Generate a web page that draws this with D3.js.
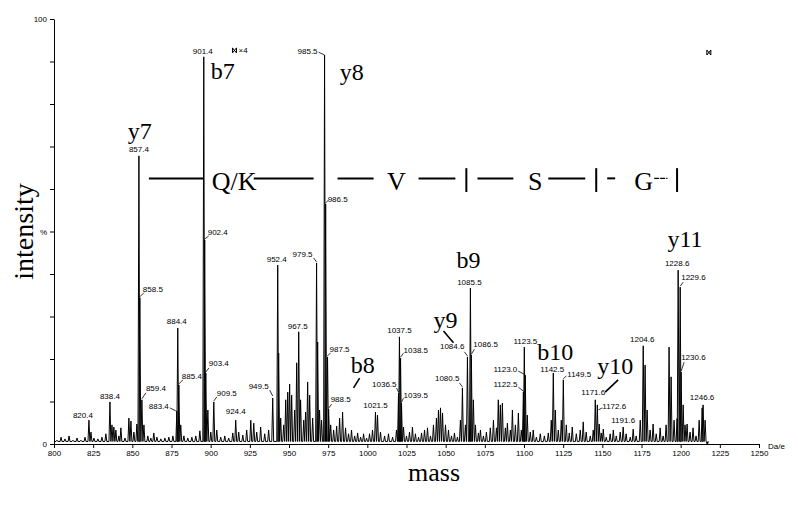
<!DOCTYPE html>
<html>
<head>
<meta charset="utf-8">
<script src="https://cdn.jsdelivr.net/npm/d3@7/dist/d3.min.js"></script>
<style>
body { margin: 0; background: #fff; }
svg { display: block; }
.small { font-family: "Liberation Sans", Arial, sans-serif; font-size: 8px; fill: #000; }
.big { font-family: "Liberation Serif", "Times New Roman", serif; fill: #000; }
</style>
</head>
<body>
<script>
// spectrum peaks: mass (axis units) and relative intensity (%)
const peakMass = [
  801.9, 804.5, 807.0, 809.6, 812.1, 814.7, 817.2, 819.8, 822.3, 823.6,
  825.5, 828.0, 830.6, 833.1, 835.7, 837.0, 838.2, 839.5, 841.4, 842.7,
  845.3, 847.8, 849.1, 851.0, 852.9, 854.2, 854.8, 856.1, 857.4, 859.9,
  861.8, 863.7, 865.7, 868.2, 870.8, 873.3, 875.9, 878.4, 879.0, 879.7,
  880.9, 882.9, 885.4, 888.0, 890.5, 893.1, 895.6, 896.2, 896.9, 898.2,
  900.1, 902.0, 903.9, 906.4, 909.0, 911.5, 914.1, 916.0, 917.9, 920.5,
  923.0, 925.6, 927.5, 929.4, 931.9, 934.5, 937.0, 939.6, 942.8, 943.4,
  944.7, 946.6, 947.9, 949.2, 950.4, 951.7, 953.6, 954.9, 956.2, 957.4,
  959.4, 960.6, 961.9, 963.2, 965.1, 967.6, 968.3, 969.5, 970.8, 972.7,
  973.4, 974.6, 975.3, 976.6, 978.5, 980.4, 982.3, 984.2, 986.1, 988.0,
  989.9, 991.9, 993.8, 995.7, 997.6, 999.5, 1001.4, 1003.3, 1005.2, 1006.5,
  1008.4, 1011.0, 1013.5, 1016.1, 1018.6, 1019.9, 1020.5, 1021.2, 1021.8, 1023.1,
  1025.0, 1026.9, 1028.8, 1030.7, 1032.7, 1034.6, 1036.5, 1038.4, 1040.3, 1042.2,
  1044.1, 1045.4, 1046.7, 1048.0, 1049.9, 1051.8, 1053.7, 1055.6, 1057.5, 1059.4,
  1060.7, 1062.6, 1063.9, 1065.8, 1066.4, 1067.7, 1069.0, 1070.9, 1072.2, 1074.1,
  1076.0, 1078.5, 1080.5, 1082.4, 1083.6, 1084.9, 1086.2, 1088.1, 1089.4, 1091.3,
  1092.6, 1094.5, 1096.4, 1098.3, 1099.6, 1100.2, 1100.8, 1102.1, 1104.0, 1105.9,
  1107.9, 1110.4, 1113.0, 1115.5, 1117.4, 1118.7, 1120.0, 1121.9, 1123.8, 1125.1,
  1127.0, 1128.9, 1130.8, 1133.4, 1135.9, 1137.8, 1139.7, 1142.3, 1144.2, 1145.5,
  1146.8, 1148.0, 1149.3, 1150.6, 1152.5, 1155.0, 1157.0, 1158.9, 1161.4, 1163.3,
  1165.2, 1167.8, 1169.7, 1171.6, 1174.2, 1176.1, 1177.3, 1178.6, 1180.5, 1182.4,
  1184.4, 1186.9, 1188.8, 1190.7, 1192.6, 1193.9, 1195.8, 1197.7, 1198.4, 1199.7,
  1200.3, 1201.6, 1202.8, 1204.1, 1206.0, 1207.9, 1209.8, 1211.8, 1213.7, 1214.3,
  1215.6, 1216.9
];
const peakInt = [
  0.9, 1.6, 1.2, 1.9, 0.9, 1.4, 0.9, 1.6, 5.6, 2.8,
  1.4, 1.2, 1.6, 2.4, 9.9, 4.5, 4.0, 3.3, 1.9, 3.8,
  1.4, 6.1, 5.4, 2.8, 4.7, 67.8, 34.4, 10.4, 4.5, 1.9,
  1.4, 2.6, 1.6, 1.2, 1.4, 1.6, 1.9, 7.8, 27.3, 13.9,
  4.5, 1.9, 1.4, 1.6, 1.9, 3.1, 91.1, 48.0, 16.7, 8.0,
  2.8, 9.9, 3.3, 1.6, 1.9, 1.4, 2.6, 5.6, 2.8, 2.1,
  3.3, 5.6, 4.9, 2.8, 4.0, 2.4, 3.3, 10.8, 42.1, 21.4,
  6.1, 4.5, 10.4, 12.2, 14.1, 11.5, 8.0, 19.1, 26.4, 10.4,
  5.6, 7.5, 14.6, 11.5, 6.1, 42.6, 24.0, 8.0, 5.6, 91.5,
  56.5, 20.5, 8.2, 4.5, 3.3, 4.2, 6.1, 7.5, 3.8, 2.4,
  3.3, 1.9, 2.6, 1.6, 2.4, 1.4, 2.4, 3.3, 7.5, 6.8,
  2.8, 1.9, 2.4, 1.6, 3.3, 12.0, 25.2, 20.2, 9.6, 4.0,
  1.9, 2.8, 4.0, 2.4, 1.6, 2.6, 3.3, 3.8, 1.9, 4.5,
  6.1, 8.0, 8.5, 7.3, 4.5, 3.3, 1.9, 2.6, 1.6, 5.6,
  13.2, 4.5, 20.5, 36.7, 20.9, 10.4, 4.5, 2.6, 3.3, 1.9,
  2.8, 3.8, 5.6, 3.8, 10.4, 9.2, 9.6, 3.8, 4.9, 3.3,
  8.0, 4.5, 7.3, 3.3, 12.2, 22.8, 16.2, 6.8, 2.8, 3.3,
  1.6, 2.4, 1.9, 2.6, 5.6, 16.7, 8.0, 3.3, 5.6, 15.1,
  4.5, 2.6, 4.0, 2.4, 3.3, 5.2, 2.8, 1.9, 3.3, 10.4,
  9.2, 4.7, 2.6, 3.5, 1.6, 2.4, 3.3, 1.9, 2.8, 4.0,
  2.4, 1.6, 3.5, 1.9, 5.6, 23.1, 18.6, 8.0, 3.3, 4.7,
  2.4, 3.8, 1.9, 4.5, 22.8, 15.8, 5.6, 6.0, 40.9, 36.9,
  16.9, 9.2, 4.5, 4.7, 2.8, 3.8, 1.9, 5.6, 8.5, 9.2,
  5.6, 0
];

// peak labels (printed m/z) and the axis mass of the peak they belong to
const labelText = [
  "820.4", "838.4", "857.4", "858.5", "859.4", "883.4", "884.4", "885.4", "901.4", "902.4",
  "903.4", "909.5", "924.4", "949.5", "952.4", "967.5", "979.5", "985.5", "986.5", "987.5",
  "988.5", "1021.5", "1036.5", "1037.5", "1038.5", "1039.5", "1080.5", "1084.6", "1085.5", "1086.5",
  "1122.5", "1123.5", "1123.0", "1142.5", "1149.5", "1171.6", "1172.6", "1191.6", "1204.6", "1228.6",
  "1229.6", "1230.6", "1246.6"
];
const labelPeak = [
  822.3, 835.7, 854.2, 854.8, 856.1, 878.4, 879.0, 879.7, 895.6, 896.2,
  896.9, 902.0, 916.0, 939.6, 942.8, 956.2, 967.6, 972.7, 973.4, 974.6,
  975.3, 1005.2, 1019.9, 1020.5, 1021.2, 1021.8, 1060.7, 1063.9, 1065.8, 1066.4,
  1099.6, 1100.2, 1100.8, 1118.7, 1125.1, 1145.5, 1146.8, 1163.3, 1176.1, 1198.4,
  1199.7, 1200.3, 1214.3
];
// label placement relative to the peak top: dx, dy, anchor, leader [x1,y1,x2,y2]
const labelLayout = [
  [-6, -2, "middle", null], [0, -3, "middle", null], [0, -4, "middle", null],
  [3, -6, "start", [0, -1, 4, -5]], [4, -9, "start", [0, -1, 4, -7]],
  [-8, -2, "end", [-1, 0, -7, -3]], [-1, -4, "middle", null], [3, -6, "start", [0, -1, 4, -5]],
  [-1, -3, "middle", null], [3, -5, "start", [0, -1, 4, -4]],
  [3, -7, "start", [0, -1, 3, -5]], [3, -6, "start", [0, -1, 3, -5]], [0, -6, "middle", null],
  [-4, -9, "end", [0, -2, -3, -8]], [-1, -3, "middle", null], [-1, -3, "middle", null],
  [-4, -6, "end", [0, -1, -3, -5]], [-7, -1, "end", [0, 0, -6, -3]],
  [2, -2, "start", [0, -1, 3, -4]], [2, -5, "start", [0, -1, 3, -4]],
  [2, -7, "start", [0, -1, 3, -5]], [0, -4, "middle", null],
  [-2, -6, "end", [0, -1, -2, -5]], [0, -4, "middle", null],
  [3, -5, "start", [0, -1, 3, -5]], [2, -5, "start", [0, -1, 2, -5]],
  [-3, -7, "end", [0, -1, -3, -5]], [-3, -8, "end", [0, -1, -3, -5]],
  [-1, -3, "middle", null], [2, -8, "start", [0, -1, 3, -6]],
  [-6, -5, "end", [0, -1, -5, -5]], [1, -3, "middle", null],
  [-8, -3, "end", [-1, -1, -7, -4]], [-1, -1, "middle", null],
  [4, -3, "start", [0, -1, 3, -4]], [-2, -5, "middle", null],
  [5, 4, "start", [1, 5, 5, 3]], [0, -4, "middle", null], [-1, -4, "middle", null],
  [-1, -4, "middle", null], [1, -7, "start", [0, -1, 3, -5]],
  [0, -12, "start", [0, -1, 3, -10]], [-1, -5, "middle", null]
];

// fragment ion annotations: text, mass, intensity (baseline of text)
const ionText = ["y7", "b7", "y8", "b8", "y9", "b9", "b10", "y10", "y11"];
const ionMass = [854.8, 907.7, 990.0, 997.0, 1049.9, 1064.5, 1120.0, 1158.2, 1202.8];
const ionInt = [71.8, 85.9, 85.6, 16.7, 27.3, 41.4, 19.8, 16.5, 46.4];
// ion leaders: [m1, i1, m2, i2]
const ionLeaders = [
  [995.1, 15.5, 991.2, 13.2],
  [1048.6, 26.6, 1055.0, 23.8],
  [1151.8, 12.2, 1160.1, 15.1]
];

// sequence read-out line
const seqLetters = ["Q/K", "V", "S", "G"];
const seqLetterMass = [915.0, 1018.6, 1107.2, 1176.4];
const seqDashes = [
  [860.6, 895.6], [927.5, 965.7], [981.0, 1004.0], [1032.7, 1056.2],
  [1070.3, 1093.2], [1115.5, 1139.1], [1153.1, 1158.2]
];
const seqThinDash = [1183.1, 1191.6];
const seqBars = [1063.2, 1146.1, 1197.7];

const xTicks = d3.range(800, 1251, 25);
const yTicks = d3.range(0, 101, 10);

const W = 798, H = 507;
const svg = d3.select("body").append("svg")
    .attr("width", W)
    .attr("height", H);

const x = d3.scaleLinear().domain([800, 1250]).range([54, 759]);
const y = d3.scaleLinear().domain([0, 100]).range([444, 19]);

// axes
const xAxis = svg.append("g")
    .attr("transform", `translate(0,${y(0)})`)
    .call(d3.axisBottom(x).tickValues(xTicks).tickFormat(d3.format("d"))
        .tickSize(4).tickSizeOuter(0).tickPadding(2));
xAxis.selectAll("text").attr("class", "small").attr("font-family", null).attr("font-size", null);
xAxis.select(".domain").attr("stroke", "#000");

const yAxis = svg.append("g")
    .attr("transform", `translate(${x(800)},0)`)
    .call(d3.axisLeft(y).tickValues(yTicks).tickSize(4).tickSizeOuter(0).tickPadding(3)
        .tickFormat(d => d === 100 ? "100" : d === 50 ? "%" : d === 0 ? "0" : ""));
yAxis.selectAll("text").attr("class", "small").attr("font-family", null).attr("font-size", null);

svg.append("text")
    .attr("class", "small")
    .attr("font-size", "7.5px")
    .attr("x", x(1250) + 9)
    .attr("y", y(0) + 5)
    .text("Da/e");

// axis titles
svg.append("text")
    .attr("class", "big")
    .attr("font-size", 28)
    .attr("text-anchor", "middle")
    .attr("transform", `translate(33,${y(50)}) rotate(-90)`)
    .text("intensity");

svg.append("text")
    .attr("class", "big")
    .attr("font-size", 26)
    .attr("text-anchor", "middle")
    .attr("x", 434)
    .attr("y", 481)
    .text("mass");

// spectrum trace
const hw = 0.6, floor = 0.6;
const pts = [[800.5, floor]];
d3.range(peakMass.length).forEach(i => {
    const m = peakMass[i];
    pts.push([m - hw, floor], [m, peakInt[i]], [m + hw, floor]);
});
pts.push([1217.2, 0]);

svg.append("path")
    .datum(pts)
    .attr("fill", "none")
    .attr("stroke", "#000")
    .attr("stroke-width", 1)
    .attr("stroke-linejoin", "round")
    .attr("d", d3.line().x(d => x(d[0])).y(d => y(d[1])));

// peak labels
const intOf = new Map(peakMass.map((m, i) => [m, peakInt[i]]));
const labels = svg.append("g");
labelText.forEach((t, i) => {
    const px = x(labelPeak[i]);
    const py = y(intOf.get(labelPeak[i]));
    const [dx, dy, anchor, leader] = labelLayout[i];
    labels.append("text")
        .attr("class", "small")
        .attr("x", px + dx)
        .attr("y", py + dy)
        .attr("text-anchor", anchor)
        .text(t);
    if (leader) {
        labels.append("line")
            .attr("x1", px + leader[0]).attr("y1", py + leader[1])
            .attr("x2", px + leader[2]).attr("y2", py + leader[3])
            .attr("stroke", "#000").attr("stroke-width", 0.8);
    }
});

// ion annotations
ionText.forEach((t, i) => {
    svg.append("text")
        .attr("class", "big")
        .attr("font-size", 24)
        .attr("text-anchor", "middle")
        .attr("x", x(ionMass[i]))
        .attr("y", y(ionInt[i]))
        .text(t);
});
ionLeaders.forEach(l => {
    svg.append("line")
        .attr("x1", x(l[0])).attr("y1", y(l[1]))
        .attr("x2", x(l[2])).attr("y2", y(l[3]))
        .attr("stroke", "#000").attr("stroke-width", 1.6);
});

// sequence line
const seqY = 62.5;
seqDashes.forEach(d => {
    svg.append("line")
        .attr("x1", x(d[0])).attr("x2", x(d[1]))
        .attr("y1", y(seqY)).attr("y2", y(seqY))
        .attr("stroke", "#000").attr("stroke-width", 2);
});
svg.append("line")
    .attr("x1", x(seqThinDash[0])).attr("x2", x(seqThinDash[1]))
    .attr("y1", y(seqY)).attr("y2", y(seqY))
    .attr("stroke", "#000").attr("stroke-width", 1.2)
    .attr("stroke-dasharray", "5,1");
seqBars.forEach(m => {
    svg.append("line")
        .attr("x1", x(m)).attr("x2", x(m))
        .attr("y1", y(64.9)).attr("y2", y(59.3))
        .attr("stroke", "#000").attr("stroke-width", 2);
});
seqLetters.forEach((t, i) => {
    svg.append("text")
        .attr("class", "big")
        .attr("font-size", 26)
        .attr("text-anchor", "middle")
        .attr("x", x(seqLetterMass[i]))
        .attr("y", y(59.8))
        .text(t);
});

// x4 magnification markers
function marker(m, v) {
    const cx = x(m), cy = y(v);
    svg.append("path")
        .attr("d", `M${cx - 2},${cy - 3}V${cy + 2}M${cx + 2},${cy - 3}V${cy + 2}M${cx - 2},${cy - 3}L${cx + 2},${cy + 2}M${cx + 2},${cy - 3}L${cx - 2},${cy + 2}`)
        .attr("stroke", "#000").attr("stroke-width", 1);
}
marker(915.2, 92.5);
svg.append("text")
    .attr("class", "small")
    .attr("font-size", "7px")
    .attr("x", x(915.2) + 4)
    .attr("y", y(92.5) + 2)
    .text("×4");
marker(1218.0, 92.0);
</script>
</body>
</html>
